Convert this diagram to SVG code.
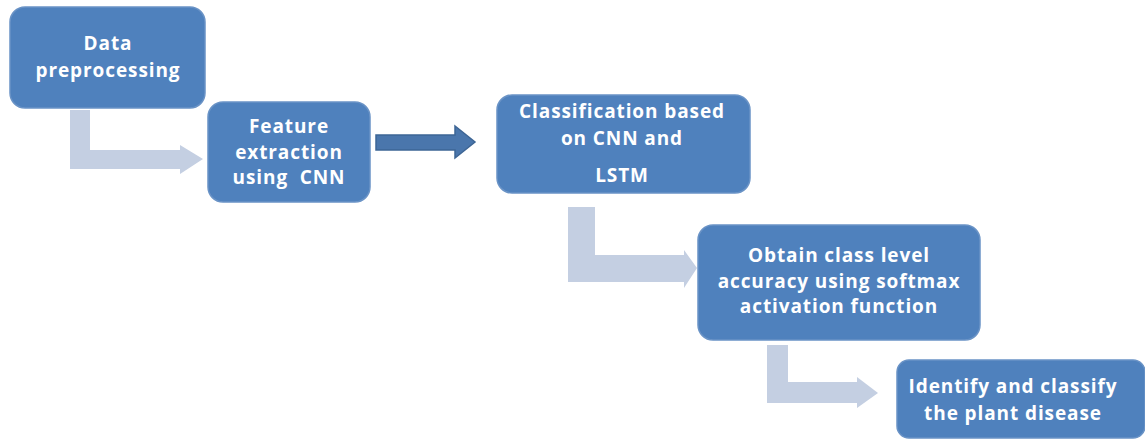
<svg xmlns="http://www.w3.org/2000/svg" width="1145" height="440" viewBox="0 0 1145 440">
<style>
.box{fill:#4f81bd;stroke:#6a93c6;stroke-width:1.5}
.t{font-family:"Open Sans","Noto Sans",sans-serif;font-weight:bold;font-size:19px;letter-spacing:0.9px;fill:#ffffff;text-anchor:middle}
.la{fill:#c4cfe2}
.da{fill:#4a76ac;stroke:#3d6595;stroke-width:1.5}
</style>
<rect width="1145" height="440" fill="#ffffff"/>
<g id="connectors">
<polygon class="la" points="70,110 90,110 90,150 180,150 180,145 203,159 180,174 180,169 70,169"/>
<polygon class="da" points="376,135 455,135 455,126 475,142 455,158 455,150 376,150"/>
<polygon class="la" points="568,207 595,207 595,255 684,255 684,250 697,268 684,288 684,282 568,282"/>
<polygon class="la" points="767,345 788,345 788,382 857,382 857,377 878,393 857,408 857,403 767,403"/>
</g>
<g id="n1">
<rect class="box" x="10" y="7" width="195" height="101" rx="15"/>
<text class="t" x="108" y="50">Data</text>
<text class="t" x="108" y="77">preprocessing</text>
</g>
<g id="n2">
<rect class="box" x="208" y="102" width="162" height="100" rx="15"/>
<text class="t" x="289" y="133">Feature</text>
<text class="t" x="289" y="159">extraction</text>
<text class="t" x="289" y="184" xml:space="preserve" style="white-space:pre">using  CNN</text>
</g>
<g id="n3">
<rect class="box" x="497" y="95" width="253" height="98" rx="15"/>
<text class="t" x="622" y="118">Classification based</text>
<text class="t" x="622" y="145">on CNN and</text>
<text class="t" x="622" y="182">LSTM</text>
</g>
<g id="n4">
<rect class="box" x="698" y="225" width="282" height="115" rx="15"/>
<text class="t" x="839" y="262">Obtain class level</text>
<text class="t" x="839" y="288">accuracy using softmax</text>
<text class="t" x="839" y="313">activation function</text>
</g>
<g id="n5">
<rect class="box" x="897" y="360" width="248" height="78" rx="12"/>
<text class="t" x="1013" y="393">Identify and classify</text>
<text class="t" x="1013" y="420">the plant disease</text>
</g>
</svg>
